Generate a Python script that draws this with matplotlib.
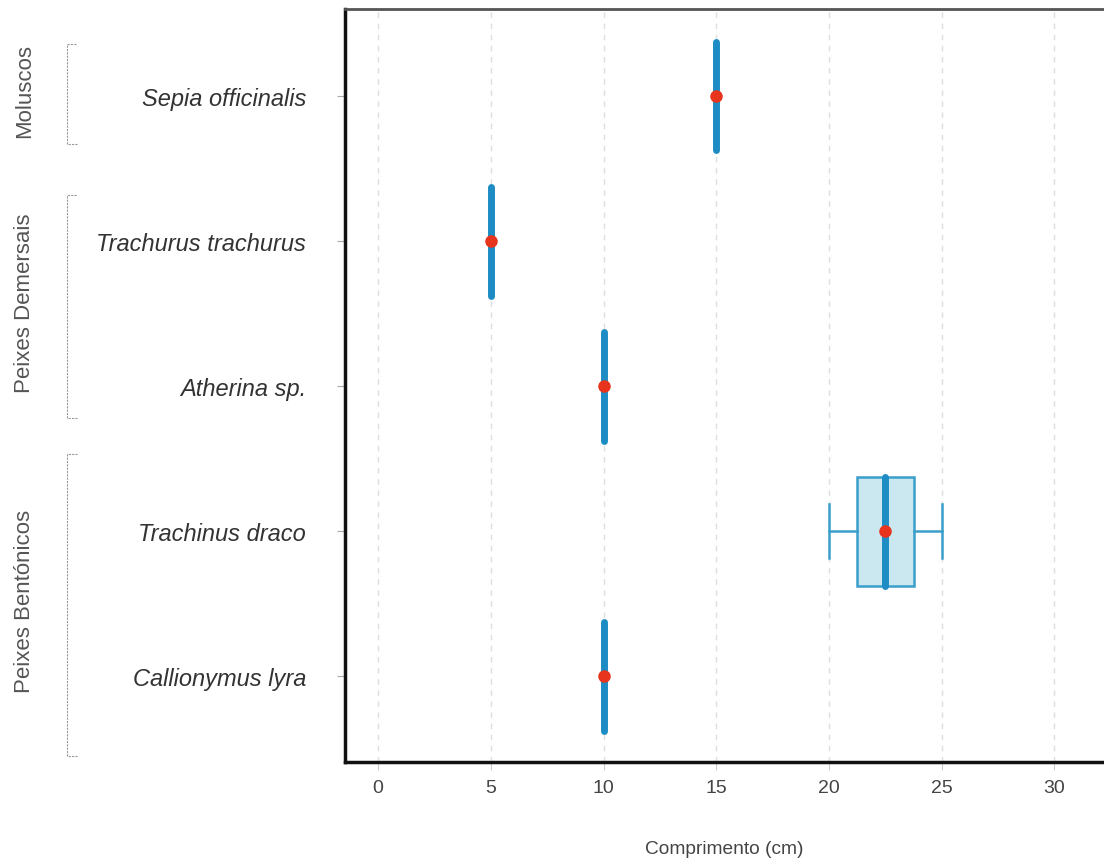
import matplotlib.pyplot as plt
import matplotlib.transforms as mtransforms

plt.rcParams['font.family'] = ['Liberation Sans', 'DejaVu Sans']

# species from bottom to top
species = ["Callionymus lyra", "Trachinus draco", "Atherina sp.",
           "Trachurus trachurus", "Sepia officinalis"]
lengths = [[10], [20, 25], [10], [5], [15]]

groups = ["Peixes Bentónicos", "Peixes Demersais", "Moluscos"]
group_spans = [(-0.55, 1.53), (1.78, 3.32), (3.67, 4.36)]

xticks = [0, 5, 10, 15, 20, 25, 30]

blue = "#1d8cc4"
edge = "#3a9fca"
fill = "#cbe7f0"
red = "#e8341c"

fig = plt.figure(figsize=(11.04, 8.62), dpi=100)
ax = fig.add_axes([0.3125, 0.1149, 0.6875, 0.8735])

pos = list(range(len(species)))
ax.boxplot(lengths, positions=pos, vert=False, widths=0.75, patch_artist=True,
           showmeans=True, showfliers=False,
           boxprops=dict(facecolor=fill, edgecolor=edge, linewidth=1.8),
           whiskerprops=dict(color=edge, linewidth=1.8),
           capprops=dict(color=edge, linewidth=1.8),
           medianprops=dict(color=blue, linewidth=5, solid_capstyle="round"),
           meanprops=dict(marker="o", markerfacecolor=red, markeredgecolor=red,
                          markersize=8))

ax.set_xlim(-1.47, 32.2)
ax.set_ylim(-0.59, 4.6)
ax.set_xticks(xticks)
ax.set_xticklabels([str(t) for t in xticks], fontsize=14, color="#444444")
ax.set_yticks(pos)
ax.set_yticklabels(species, fontsize=17, style="italic", color="#333333")
ax.tick_params(axis="y", length=6, color="#aaaaaa", pad=22)
ax.tick_params(axis="x", length=6, color="#cccccc", pad=6)

ax.xaxis.grid(True, linestyle=(0, (4, 4)), color="#dedede", linewidth=1)
ax.set_axisbelow(True)

for s in ["left", "bottom"]:
    ax.spines[s].set_linewidth(2.5)
    ax.spines[s].set_color("#111111")
ax.spines["top"].set_linewidth(2)
ax.spines["top"].set_color("#555555")
ax.spines["right"].set_visible(False)

ax.set_xlabel("Comprimento (cm)", fontsize=13.8, color="#444444", labelpad=32)

# group brackets on the left
trans = mtransforms.blended_transform_factory(ax.transAxes, ax.transData)
bx = (67 - 345) / 759
tick = 10 / 759
tx = (25 - 345) / 759
for name, (lo, hi) in zip(groups, group_spans):
    ax.plot([bx + tick, bx, bx, bx + tick], [lo, lo, hi, hi], transform=trans,
            color="#999999", linewidth=0.8, linestyle=(0, (2, 1)), clip_on=False)
    ax.text(tx, (lo + hi) / 2 + 0.03, name, transform=trans, rotation=90,
            ha="center", va="center", fontsize=16, color="#555555")

fig.savefig("out.png", dpi=100)
